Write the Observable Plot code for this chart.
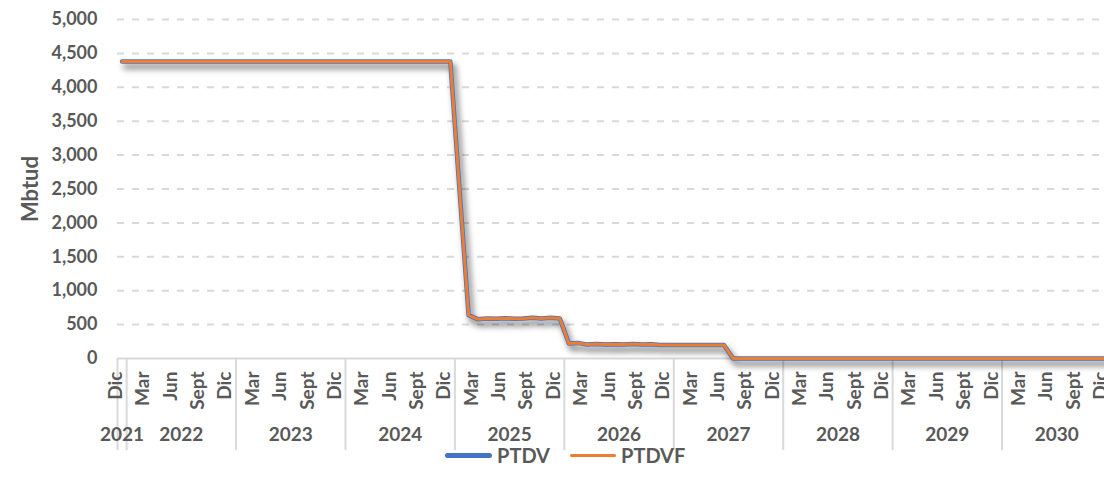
<!DOCTYPE html>
<html>
<head>
<meta charset="utf-8">
<script src="https://cdn.jsdelivr.net/npm/d3@7"></script>
<script src="https://cdn.jsdelivr.net/npm/@observablehq/plot@0.6"></script>
<style>
  html, body { margin: 0; padding: 0; background: #fff; overflow: hidden; width: 1104px; height: 491px; }
  #chart { position: absolute; left: 0; top: 0; width: 1111px; }
  #legend { position: absolute; left: 445px; top: 447px; height: 16px; line-height: 16px; display: flex; align-items: center;
    font-family: Lato, sans-serif; font-weight: bold; font-size: 20px; color: #595959; }
  .sw { display: inline-block; border-radius: 3px; }
  .item { display: flex; align-items: center; }
</style>
</head>
<body>
<div id="chart"></div>
<div id="legend">
  <span class="item"><span class="sw" style="width:47px;height:5px;background:#4472C4"></span><span style="margin-left:5px">PTDV</span></span>
  <span class="item" style="margin-left:20px"><span class="sw" style="width:46px;height:3px;background:#ED7D31"></span><span style="margin-left:5px">PTDVF</span></span>
</div>
<script>
// Categories: Dec 2021, then Jan..Dec for 2022..2030
const years = [2021, 2022, 2023, 2024, 2025, 2026, 2027, 2028, 2029, 2030];
const monthNames = ["Ene", "Feb", "Mar", "Abr", "May", "Jun", "Jul", "Ago", "Sept", "Oct", "Nov", "Dic"];
const shownMonths = ["Mar", "Jun", "Sept", "Dic"];
const yTicks = [0, 500, 1000, 1500, 2000, 2500, 3000, 3500, 4000, 4500, 5000];

// Mbtud, one value per month category
const ptdv = [
  4380,
  4380, 4380, 4380, 4380, 4380, 4380, 4380, 4380, 4380, 4380, 4380, 4380,
  4380, 4380, 4380, 4380, 4380, 4380, 4380, 4380, 4380, 4380, 4380, 4380,
  4380, 4380, 4380, 4380, 4380, 4380, 4380, 4380, 4380, 4380, 4380, 4380,
  2500, 640, 580, 590, 585, 595, 585, 590, 600, 590, 600, 590,
  220, 230, 205, 215, 205, 210, 205, 215, 205, 210, 200, 200,
  200, 200, 200, 200, 200, 200, 0, 0, 0, 0, 0, 0,
  0, 0, 0, 0, 0, 0, 0, 0, 0, 0, 0, 0,
  0, 0, 0, 0, 0, 0, 0, 0, 0, 0, 0, 0,
  0, 0, 0, 0, 0, 0, 0, 0, 0, 0, 0, 0
];
const ptdvf = [
  4380,
  4380, 4380, 4380, 4380, 4380, 4380, 4380, 4380, 4380, 4380, 4380, 4380,
  4380, 4380, 4380, 4380, 4380, 4380, 4380, 4380, 4380, 4380, 4380, 4380,
  4380, 4380, 4380, 4380, 4380, 4380, 4380, 4380, 4380, 4380, 4380, 4380,
  2500, 640, 580, 590, 585, 595, 585, 590, 600, 590, 600, 590,
  220, 230, 205, 215, 205, 210, 205, 215, 205, 210, 200, 200,
  200, 200, 200, 200, 200, 200, 0, 0, 0, 0, 0, 0,
  0, 0, 0, 0, 0, 0, 0, 0, 0, 0, 0, 0,
  0, 0, 0, 0, 0, 0, 0, 0, 0, 0, 0, 0,
  0, 0, 0, 0, 0, 0, 0, 0, 0, 0, 0, 0
];

// Build category table
const cats = [];
years.forEach(y => {
  const ms = y === years[0] ? [11] : d3.range(12);
  ms.forEach(m => cats.push({year: y, month: monthNames[m]}));
});
const data = cats.map((c, i) => ({...c, i, ptdv: ptdv[i], ptdvf: ptdvf[i]}));
const monthTicks = data.filter(d => shownMonths.includes(d.month));
const yearGroups = years.map(y => {
  const idx = data.filter(d => d.year === y).map(d => d.i);
  return {year: y, center: (d3.min(idx) + d3.max(idx)) / 2, start: d3.min(idx) - 0.5, end: d3.max(idx) + 0.5};
});
const separators = Array.from(new Set(yearGroups.flatMap(g => [g.start, g.end])));

const plot = Plot.plot({
  width: 1111,
  height: 440,
  marginLeft: 117,
  marginRight: 0,
  marginTop: 19,
  marginBottom: 82,
  style: {fontFamily: "Lato, sans-serif", fontSize: "18px", fontWeight: "bold", color: "#595959", background: "white", overflow: "visible", maxWidth: "none"},
  x: {type: "linear", domain: [-0.5, cats.length - 0.5], axis: null},
  y: {domain: [0, 5000], axis: null},
  marks: [
    Plot.ruleY(yTicks.filter(v => v > 0), {stroke: "#d9d9d9", strokeWidth: 2, strokeDasharray: "7,8"}),
    Plot.ruleY([0], {stroke: "#d9d9d9", strokeWidth: 2}),
    Plot.axisY({ticks: yTicks, tickSize: 0, tickPadding: 20, tickFormat: d3.format(","), fill: "#595959", fontSize: 18, fontWeight: "bold"}),
    Plot.text(["Mbtud"], {frameAnchor: "left", dx: -87, rotate: -90, textAnchor: "middle", fill: "#595959", fontSize: 22, fontWeight: "bold"}),
    Plot.axisX({ticks: separators, tickSize: 92, tickFormat: () => "", stroke: "#d9d9d9", strokeWidth: 2, strokeOpacity: 1}),
    Plot.text(monthTicks, {x: "i", text: "month", frameAnchor: "bottom", dy: 13, rotate: -90, textAnchor: "end", fill: "#595959", fontSize: 19, fontWeight: "bold"}),
    Plot.text(yearGroups, {x: "center", text: d => String(d.year), frameAnchor: "bottom", dy: 82, fill: "#595959", fontSize: 19, fontWeight: "bold"}),
    Plot.line(data, {x: "i", y: "ptdv", stroke: "#4472C4", strokeWidth: 4.5}),
    Plot.line(data, {x: "i", y: "ptdvf", stroke: "#ED7D31", strokeWidth: 3})
  ]
});
document.getElementById("chart").appendChild(plot);
const lines = plot.querySelectorAll('g[aria-label="line"]');
if (lines.length) lines[0].style.filter = "drop-shadow(3px 5px 3px rgba(0,0,0,0.55))";
</script>
</body>
</html>
